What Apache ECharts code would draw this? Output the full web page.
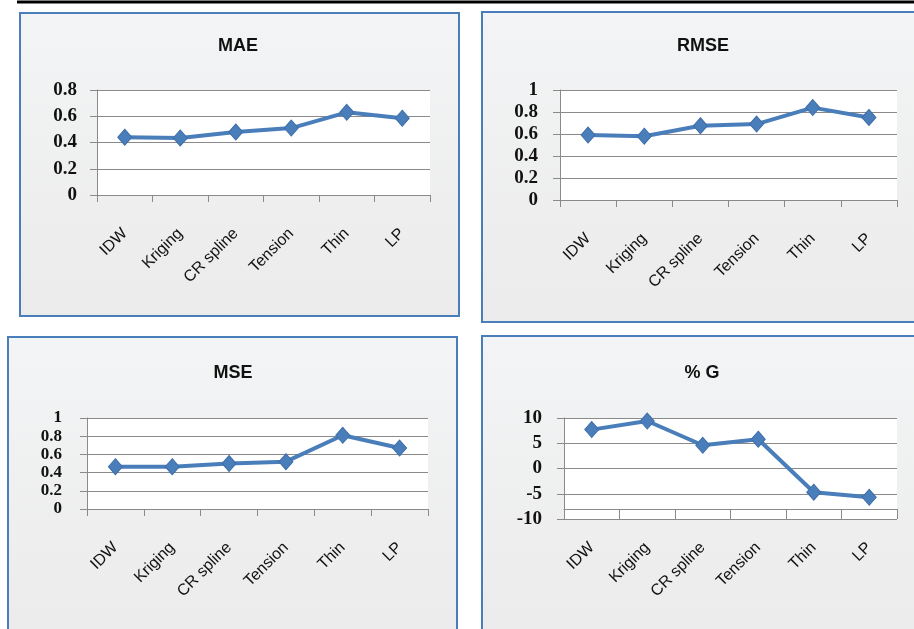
<!DOCTYPE html>
<html><head><meta charset="utf-8">
<script src="https://cdn.jsdelivr.net/npm/echarts@6/dist/echarts.min.js"></script>
<style>html,body{margin:0;padding:0;background:#fff}#c{width:914px;height:629px}</style>
</head><body><div id="c"></div>
<script>
const categories = ['IDW', 'Kriging', 'CR spline', 'Tension', 'Thin', 'LP'];
const maeValues  = [0.44, 0.435, 0.48, 0.51, 0.63, 0.585];
const rmseValues = [0.59, 0.58, 0.675, 0.69, 0.84, 0.75];
const mseValues  = [0.465, 0.465, 0.50, 0.52, 0.81, 0.67];
const gValues    = [7.7, 9.4, 4.6, 5.8, -4.7, -5.7];
const maeTicks  = [0, 0.2, 0.4, 0.6, 0.8];
const rmseTicks = [0, 0.2, 0.4, 0.6, 0.8, 1];
const mseTicks  = [0, 0.2, 0.4, 0.6, 0.8, 1];
const gTicks    = [-10, -5, 0, 5, 10];
const titles = ['MAE', 'RMSE', 'MSE', '% G'];

const grids = [
  {left: 97, top: 90, width: 333, height: 105},
  {left: 560, top: 90, width: 337, height: 110},
  {left: 87, top: 418, width: 341, height: 91},
  {left: 564, top: 418, width: 333, height: 101}
];
const panels = [
  {x: 20, y: 13, w: 439, h: 303},
  {x: 482, y: 12, w: 445, h: 310},
  {x: 8, y: 337, w: 449, h: 310},
  {x: 482, y: 336, w: 445, h: 310}
];
const titlePos = [[238, 46], [703, 46], [233, 373], [702, 373]];
const yMargins = [20, 22, 25, 22];
const yFontSizes = [19, 19, 17, 19];
const tickSets = [maeTicks, rmseTicks, mseTicks, gTicks];
const valueSets = [maeValues, rmseValues, mseValues, gValues];

const gridColor = '#8a8a8a';
const chart = echarts.init(document.getElementById('c'));

const graphic = [];
panels.forEach(p => {
  graphic.push({type: 'rect', z: -10, shape: {x: p.x, y: p.y, width: p.w, height: p.h},
    style: {fill: new echarts.graphic.LinearGradient(0, 0, 0, 1, [
      {offset: 0, color: '#f3f4f5'}, {offset: 1, color: '#ebebeb'}]),
      stroke: '#4a7ebb', lineWidth: 2}});
});
graphic.push({type: 'line', z: -5, shape: {x1: 17, y1: 2, x2: 914, y2: 2},
  style: {stroke: '#000', lineWidth: 3}});
titles.forEach((t, i) => {
  graphic.push({type: 'text', z: 5, x: titlePos[i][0], y: titlePos[i][1],
    style: {text: t, fill: '#111', font: 'bold 18px "Liberation Sans", Arial, sans-serif',
      align: 'center', verticalAlign: 'middle'}});
});

const xAxis = [], yAxis = [], series = [];
for (let i = 0; i < 4; i++) {
  const ticks = tickSets[i];
  const isG = i === 3;
  xAxis.push({
    type: 'category', gridIndex: i, data: categories, boundaryGap: true,
    offset: isG ? -10 : 0,
    axisLine: {show: true, onZero: false, lineStyle: {color: gridColor, width: 1}},
    axisTick: {show: true, length: isG ? 10 : 7, lineStyle: {color: gridColor}},
    axisLabel: {rotate: 45, margin: 36, interval: 0, color: '#111',
      fontFamily: '"Liberation Sans", Arial, sans-serif', fontSize: 16},
    splitLine: {show: false}
  });
  yAxis.push({
    type: 'value', gridIndex: i, min: ticks[0], max: ticks[ticks.length - 1],
    interval: ticks[1] - ticks[0],
    axisLine: {show: true, lineStyle: {color: gridColor, width: 1}},
    axisTick: {show: true, length: 7, lineStyle: {color: gridColor}},
    splitLine: {show: true, lineStyle: {color: gridColor, width: 1}},
    axisLabel: {margin: yMargins[i], showMinLabel: true, showMaxLabel: true, hideOverlap: false,
      textMargin: 0, minMargin: 0,
      color: '#111', fontFamily: '"Liberation Serif", "Times New Roman", serif',
      fontSize: yFontSizes[i], fontWeight: 'bold', lineHeight: 14}
  });
  series.push({
    type: 'line', xAxisIndex: i, yAxisIndex: i, data: valueSets[i],
    symbol: 'diamond', symbolSize: [14, 16], showSymbol: true,
    lineStyle: {color: '#4a7ebb', width: 4},
    itemStyle: {color: '#4a7ebb', borderColor: '#3f6ea8', borderWidth: 1},
    animation: false
  });
}

chart.setOption({
  animation: false,
  backgroundColor: '#fff',
  graphic: graphic,
  grid: grids.map(g => Object.assign({show: true, backgroundColor: '#fff', borderWidth: 0, containLabel: false}, g)),
  xAxis: xAxis,
  yAxis: yAxis,
  series: series
});
</script>
</body></html>
